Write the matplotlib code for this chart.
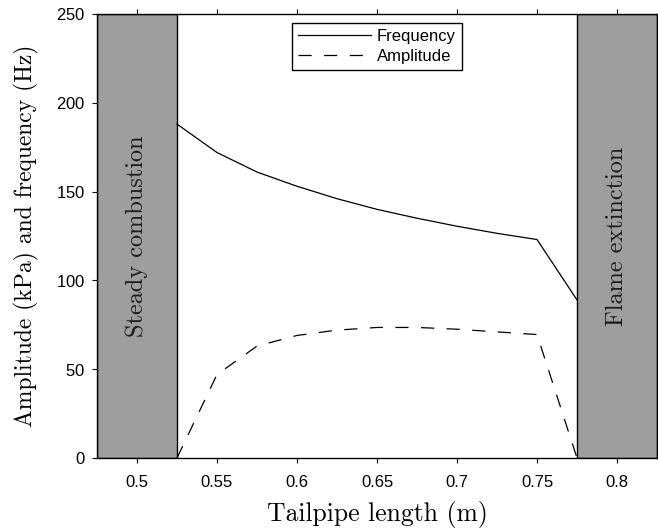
import matplotlib
matplotlib.use('Agg')
import matplotlib.pyplot as plt

# tailpipe length (m)
lengths = [0.525, 0.55, 0.575, 0.6, 0.625, 0.65, 0.675, 0.7, 0.725, 0.75, 0.775]
frequency = [188, 172, 161, 153, 146, 140, 135, 130.5, 126.5, 123, 89]
amplitude = [0, 47, 63, 69, 72, 73.5, 73.5, 72.5, 71, 69.5, 0]

steady_zone = (0.475, 0.525)
extinct_zone = (0.775, 0.825)
zone_labels = ['Steady combustion', 'Flame extinction']

xticks = [0.5, 0.55, 0.6, 0.65, 0.7, 0.75, 0.8]
xticklabels = ['0.5', '0.55', '0.6', '0.65', '0.7', '0.75', '0.8']
yticks = [0, 50, 100, 150, 200, 250]

serif = 'cmr10'
sans = 'Liberation Sans'
plt.rcParams['axes.formatter.use_mathtext'] = True

fig = plt.figure(figsize=(6.58, 5.28), dpi=100)
ax = fig.add_axes([0.1474, 0.1326, 0.8511, 0.8409])

for (x0, x1), label in zip([steady_zone, extinct_zone], zone_labels):
    ax.axvspan(x0, x1, facecolor='0.62', edgecolor='k', linewidth=1.0, zorder=1)
    ax.text((x0 + x1) / 2, 125, label, rotation=90, ha='center', va='center',
            fontsize=17.5, family=serif, color='0.1', zorder=2)

ax.plot(lengths, frequency, color='k', lw=0.9, label='Frequency', zorder=3)
ax.plot(lengths, amplitude, color='k', lw=0.9, linestyle=(0, (10.5, 10)),
        label='Amplitude', zorder=3)

ax.set_xlim(0.475, 0.825)
ax.set_ylim(0, 250)
ax.set_xticks(xticks)
ax.set_xticklabels(xticklabels)
ax.set_yticks(yticks)
ax.tick_params(direction='out', length=3.5, width=0.8, labelsize=12,
               top=True, right=False)
ax.tick_params(axis='x', pad=9)
ax.tick_params(axis='y', pad=5)
for lab in ax.get_xticklabels() + ax.get_yticklabels():
    lab.set_family(sans)
for sp in ax.spines.values():
    sp.set_linewidth(1.0)
    sp.set_zorder(4)

ax.set_xlabel('Tailpipe length (m)', fontsize=18.5, family=serif, labelpad=8)
ax.set_ylabel('Amplitude (kPa) and frequency (Hz)', fontsize=17, family=serif,
              labelpad=12)

leg = ax.legend(loc='upper center', prop={'family': sans, 'size': 12},
                fancybox=False, edgecolor='k', framealpha=1, handlelength=4.4,
                borderaxespad=0.55, borderpad=0.35, labelspacing=0.3,
                handletextpad=0.35)
leg.get_frame().set_linewidth(1.0)

fig.savefig('out.png', dpi=100)
